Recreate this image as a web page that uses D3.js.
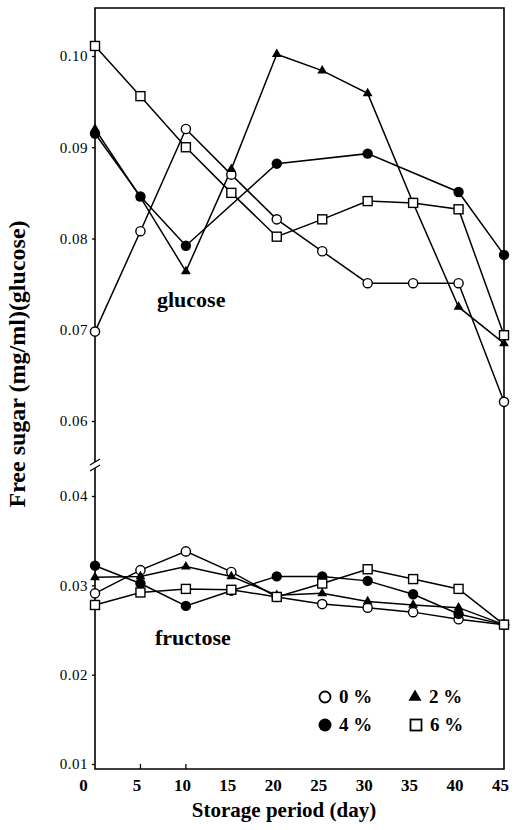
<!DOCTYPE html>
<html>
<head>
<meta charset="utf-8">
<script src="https://cdn.jsdelivr.net/npm/d3@7"></script>
<style>
  html, body { margin: 0; padding: 0; background: #fff; }
  svg { display: block; }
  text { font-family: "Liberation Serif", "Times New Roman", serif; fill: #000; }
</style>
</head>
<body>
<svg id="chart" width="515" height="830"></svg>
<script>
// ---- data ----
const days = [0, 5, 10, 15, 20, 25, 30, 35, 40, 45];
const dayTicks = [0, 5, 10, 15, 20, 25, 30, 35, 40, 45];
const glucoseTicks = [0.06, 0.07, 0.08, 0.09, 0.10];
const fructoseTicks = [0.01, 0.02, 0.03, 0.04];
const seriesNames = ["0 %", "2 %", "4 %", "6 %"];
const seriesSymbols = ["openCircle", "triangle", "filledCircle", "openSquare"];

const glucose0 = [0.0698, 0.0808, 0.0920, 0.0870, 0.0821, 0.0786, 0.0751, 0.0751, 0.0751, 0.0621];
const glucose2 = [0.0920, 0.0845, 0.0764, 0.0876, 0.1002, 0.0984, 0.0959, 0.0839, 0.0725, 0.0685];
const glucose4 = [0.0915, 0.0846, 0.0792, null, 0.0882, null, 0.0893, null, 0.0851, 0.0782];
const glucose6 = [0.1011, 0.0956, 0.0900, 0.0850, 0.0802, 0.0821, 0.0841, 0.0839, 0.0832, 0.0694];

const fructose0 = [0.0291, 0.0317, 0.0338, 0.0315, 0.0287, 0.0279, 0.0275, 0.0270, 0.0262, 0.0256];
const fructose2 = [0.0309, 0.0310, 0.0321, 0.0310, 0.0289, 0.0291, 0.0282, 0.0278, 0.0275, 0.0256];
const fructose4 = [0.0322, 0.0302, 0.0277, 0.0294, 0.0310, 0.0310, 0.0305, 0.0290, 0.0268, 0.0256];
const fructose6 = [0.0278, 0.0292, 0.0296, 0.0295, 0.0287, 0.0302, 0.0318, 0.0307, 0.0296, 0.0256];

// ---- layout ----
const svg = d3.select("#chart");
const plotL = 95, plotR = 504, plotT = 8, plotB = 769, breakY = 465;

const x = d3.scaleLinear().domain([0, 45]).range([plotL, plotR]);
const yTop = d3.scaleLinear().domain([0.06, 0.10]).range([421, 56]);
const yBot = d3.scaleLinear().domain([0.01, 0.04]).range([764, 496]);

// frame
svg.append("path")
  .attr("d", `M${plotL},${plotT}H${plotR}V${plotB}H${plotL}Z`)
  .attr("fill", "none").attr("stroke", "#000").attr("stroke-width", 1.6);

// axis break on left axis
svg.append("rect").attr("x", plotL - 3).attr("y", breakY - 3).attr("width", 6).attr("height", 6).attr("fill", "#fff");
[-3, 3].forEach(dy => {
  svg.append("line")
    .attr("x1", plotL - 5).attr("y1", breakY + dy + 3)
    .attr("x2", plotL + 5).attr("y2", breakY + dy - 3)
    .attr("stroke", "#000").attr("stroke-width", 1.3);
});

// y axes
function styleAxis(g) {
  g.select(".domain").remove();
  g.selectAll(".tick line").attr("stroke", "#000").attr("stroke-width", 1.3);
  g.selectAll(".tick text")
    .style("font-family", "'Liberation Serif', serif")
    .style("font-size", "15px")
    .style("letter-spacing", "0.5px");
}
const fmt = d3.format(".2f");
svg.append("g").attr("transform", `translate(${plotL},0)`)
  .call(d3.axisLeft(yTop).tickValues(glucoseTicks).tickFormat(fmt).tickSize(3).tickPadding(4))
  .call(styleAxis);
svg.append("g").attr("transform", `translate(${plotL},0)`)
  .call(d3.axisLeft(yBot).tickValues(fructoseTicks).tickFormat(fmt).tickSize(3).tickPadding(4))
  .call(styleAxis);

// x axis
const xAxisG = svg.append("g").attr("transform", `translate(0,${plotB})`)
  .call(d3.axisBottom(x).tickValues(dayTicks).tickSize(0).tickPadding(10));
xAxisG.select(".domain").remove();
xAxisG.selectAll(".tick text")
  .attr("dx", d => d === 0 ? -12 : -4)
  .style("font-family", "'Liberation Serif', serif")
  .style("font-size", "17px").style("font-weight", "bold");
// small inner ticks seen at 5 and 10
svg.selectAll(".xinner").data([5, 10]).enter().append("line")
  .attr("x1", d => x(d)).attr("x2", d => x(d))
  .attr("y1", plotB).attr("y2", plotB - 5)
  .attr("stroke", "#000").attr("stroke-width", 1.3);

// titles
svg.append("text")
  .attr("x", 284).attr("y", 817).attr("text-anchor", "middle")
  .style("font-size", "21px").style("font-weight", "bold")
  .text("Storage period (day)");
svg.append("text")
  .attr("transform", "translate(25,364) rotate(-90)")
  .attr("text-anchor", "middle")
  .style("font-size", "24px").style("font-weight", "bold")
  .text("Free sugar (mg/ml)(glucose)");

svg.append("text").attr("x", 157).attr("y", 307)
  .style("font-size", "22px").style("font-weight", "bold").text("glucose");
svg.append("text").attr("x", 155).attr("y", 645)
  .style("font-size", "22px").style("font-weight", "bold").text("fructose");

// ---- series ----
const glucose = [glucose0, glucose2, glucose4, glucose6];
const fructose = [fructose0, fructose2, fructose4, fructose6];

function drawMarker(g, sym, cx, cy) {
  if (sym === "openCircle") {
    g.append("circle").attr("cx", cx).attr("cy", cy).attr("r", 4.6)
      .attr("fill", "#fff").attr("stroke", "#000").attr("stroke-width", 1.4);
  } else if (sym === "filledCircle") {
    g.append("circle").attr("cx", cx).attr("cy", cy).attr("r", 5.2).attr("fill", "#000");
  } else if (sym === "triangle") {
    g.append("path").attr("d", d3.symbol(d3.symbolTriangle, 42)())
      .attr("transform", `translate(${cx},${cy})`).attr("fill", "#000");
  } else if (sym === "openSquare") {
    g.append("rect").attr("x", cx - 4.5).attr("y", cy - 4.5).attr("width", 9).attr("height", 9)
      .attr("fill", "#fff").attr("stroke", "#000").attr("stroke-width", 1.4);
  }
}

function drawGroup(sets, yScale) {
  const line = d3.line().x(d => x(d.day)).y(d => yScale(d.v));
  const pts = sets.map(vals => days.map((day, i) => ({ day, v: vals[i] })).filter(d => d.v !== null));
  pts.forEach(p => {
    svg.append("path").datum(p).attr("d", line)
      .attr("fill", "none").attr("stroke", "#000").attr("stroke-width", 1.5);
  });
  pts.forEach((p, k) => {
    const g = svg.append("g");
    p.forEach(d => drawMarker(g, seriesSymbols[k], x(d.day), yScale(d.v)));
  });
}
drawGroup(glucose, yTop);
drawGroup(fructose, yBot);

// ---- legend ----
const legendPos = [[325, 697], [415, 697], [325, 725], [416, 725]];
seriesNames.forEach((name, k) => {
  const [lx, ly] = legendPos[k];
  const g = svg.append("g");
  if (seriesSymbols[k] === "openCircle") {
    g.append("circle").attr("cx", lx).attr("cy", ly).attr("r", 5.5)
      .attr("fill", "#fff").attr("stroke", "#000").attr("stroke-width", 1.8);
  } else if (seriesSymbols[k] === "filledCircle") {
    g.append("circle").attr("cx", lx).attr("cy", ly).attr("r", 6.5).attr("fill", "#000");
  } else if (seriesSymbols[k] === "triangle") {
    g.append("path").attr("d", d3.symbol(d3.symbolTriangle, 75)())
      .attr("transform", `translate(${lx},${ly})`).attr("fill", "#000");
  } else {
    g.append("rect").attr("x", lx - 5.5).attr("y", ly - 5.5).attr("width", 11).attr("height", 11)
      .attr("fill", "#fff").attr("stroke", "#000").attr("stroke-width", 1.8);
  }
  svg.append("text").attr("x", lx + 14).attr("y", ly + 6)
    .style("font-size", "19px").style("font-weight", "bold").text(name);
});
</script>
</body>
</html>
